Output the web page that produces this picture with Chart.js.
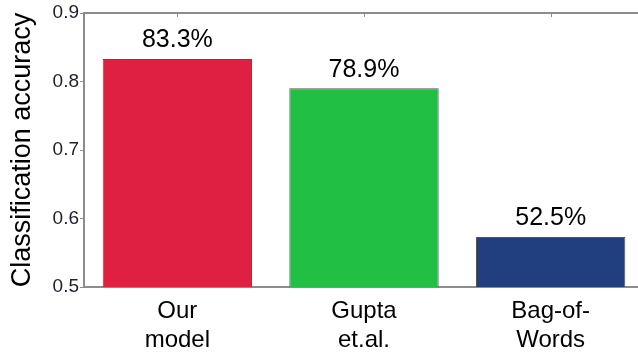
<!DOCTYPE html>
<html>
<head>
<meta charset="utf-8">
<script src="https://cdn.jsdelivr.net/npm/chart.js@4/dist/chart.umd.min.js"></script>
<style>
    html, body { margin: 0; padding: 0; background: #fff; overflow: hidden; }
    #wrap { width: 646px; height: 353px; }
</style>
</head>
<body>
<div id="wrap"><canvas id="chartAccuracy"></canvas></div>
<script>
const categories = [['Our', 'model'], ['Gupta', 'et.al.'], ['Bag-of-', 'Words']];
const accuracy = [0.833, 0.790, 0.573];
const barLabels = ['83.3%', '78.9%', '52.5%'];
const barColors = ['#df2042', '#21bf43', '#213f7e'];
const yTicks = [0.5, 0.6, 0.7, 0.8, 0.9];

const fontFamily = "'Liberation Sans', Arial, sans-serif";
const axisGray = '#8c8c8c';

// frame on top + tick marks at category centers, MATLAB style
const framePlugin = {
    id: 'frame',
    afterDraw(chart) {
        const {ctx, chartArea, scales} = chart;
        ctx.save();
        ctx.strokeStyle = axisGray;
        ctx.lineWidth = 2;
        ctx.beginPath();
        ctx.moveTo(chartArea.left, chartArea.top);
        ctx.lineTo(chartArea.right + 5, chartArea.top);
        ctx.stroke();
        ctx.lineWidth = 1;
        categories.forEach((c, i) => {
            const x = Math.round(scales.x.getPixelForValue(i)) + 0.5;
            ctx.beginPath();
            ctx.moveTo(x, chartArea.top);
            ctx.lineTo(x, chartArea.top + 4);
            ctx.stroke();
        });
        ctx.restore();
    }
};

const valueLabelPlugin = {
    id: 'valueLabels',
    afterDatasetsDraw(chart) {
        const {ctx} = chart;
        const meta = chart.getDatasetMeta(0);
        ctx.save();
        ctx.fillStyle = '#000';
        ctx.font = `25px ${fontFamily}`;
        ctx.textAlign = 'center';
        ctx.textBaseline = 'bottom';
        meta.data.forEach((bar, i) => {
            ctx.fillText(barLabels[i], bar.x, bar.y - 6);
        });
        ctx.restore();
    }
};

new Chart(document.getElementById('chartAccuracy').getContext('2d'), {
    type: 'bar',
    data: {
        labels: categories,
        datasets: [{
            data: accuracy,
            backgroundColor: barColors,
            borderColor: '#555',
            borderWidth: 1,
            borderSkipped: false,
            barPercentage: 0.8,
            categoryPercentage: 1
        }]
    },
    options: {
        responsive: true,
        maintainAspectRatio: false,
        animation: false,
        layout: {padding: {top: 13, right: 2, left: 0, bottom: 0}},
        plugins: {
            legend: {display: false},
            tooltip: {enabled: false}
        },
        scales: {
            x: {
                offset: true,
                grid: {display: false},
                border: {display: true, color: axisGray, width: 2},
                ticks: {
                    color: '#000',
                    font: {family: fontFamily, size: 24},
                    padding: 2
                },
                afterFit: scale => { scale.height = 66; }
            },
            y: {
                min: 0.5,
                max: 0.9,
                afterBuildTicks: scale => { scale.ticks = yTicks.map(v => ({value: v})); },
                grid: {drawOnChartArea: false, tickLength: 4, color: axisGray},
                border: {display: true, color: axisGray, width: 2},
                ticks: {
                    color: '#1e1e2c',
                    font: {family: fontFamily, size: 19},
                    padding: 1,
                    callback: value => value.toFixed(1)
                },
                title: {
                    display: true,
                    text: 'Classification accuracy',
                    color: '#000',
                    font: {family: fontFamily, size: 27},
                    padding: {top: 6, bottom: 0}
                },
                afterFit: scale => { scale.width = 84; }
            }
        }
    },
    plugins: [framePlugin, valueLabelPlugin]
});
</script>
</body>
</html>
